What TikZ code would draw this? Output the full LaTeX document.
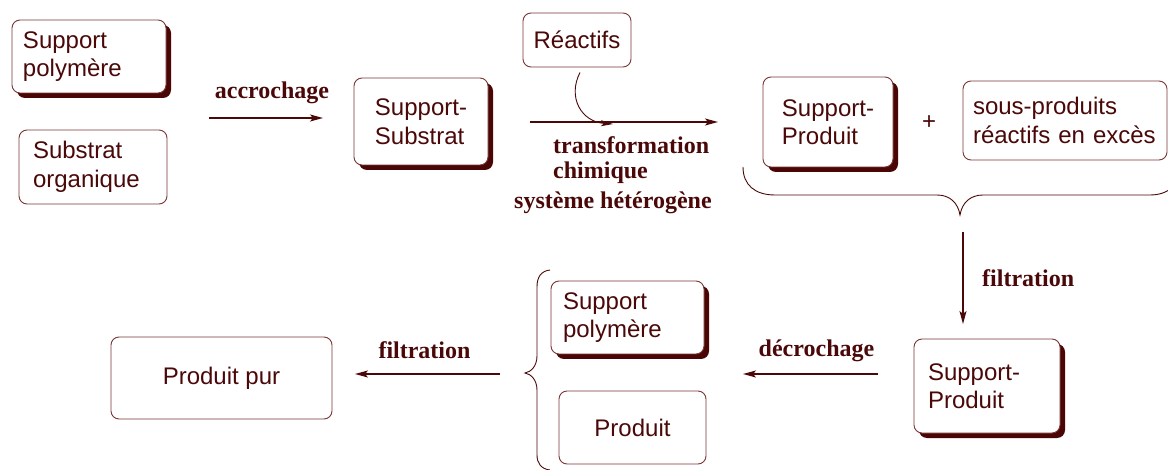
\documentclass[tikz,border=0pt]{standalone}
\usepackage{fontspec}
\setmainfont{Liberation Sans}
\newfontfamily\serifb{Liberation Serif}
\usetikzlibrary{shadows,arrows.meta,calc}
\definecolor{ink}{HTML}{4A0808}
\definecolor{boxc}{HTML}{7A3535}
\definecolor{shc}{HTML}{4A0505}
\begin{document}
\begin{tikzpicture}[x=1pt,y=-1pt,
  every node/.style={font=\fontsize{24}{28.5}\selectfont, text=ink},
  box/.style={draw=boxc, line width=0.9pt, rounded corners=8pt, fill=white, inner ysep=0pt},
  shbox/.style={box, drop shadow={shadow xshift=5pt,shadow yshift=-5pt,fill=shc,opacity=1}},
  lbl/.style={font=\serifb\bfseries\fontsize{24}{28}\selectfont, inner sep=0pt},
  arr/.style={draw=ink, line width=1.4pt, -{Stealth[length=13pt,width=7pt,inset=3pt]}},
  carr/.style={draw=ink, line width=0.9pt, -{Stealth[length=12pt,width=6pt,inset=3pt]}},
  brace/.style={draw=ink, line width=0.9pt},
]
\useasboundingbox (0,0) rectangle (1168,470);
\clip (0,0) rectangle (1168,470);

% boxes
\node[shbox, minimum width=154pt, minimum height=73pt, inner xsep=11pt, text width=132pt, align=left] (A) at (89,56.5) {Support\\polymère};
\node[box, minimum width=148pt, minimum height=74pt, inner xsep=14pt, text width=120pt, align=left] (B) at (93,167) {Substrat\\organique};
\node[shbox, minimum width=134pt, minimum height=87pt, align=left] (C) at (421,121.5) {Support-\\Substrat};
\node[box, minimum width=108pt, minimum height=54pt, align=center] (R) at (577,40) {Réactifs};
\node[shbox, minimum width=130pt, minimum height=90pt, align=left] (D) at (828,122) {Support-\\Produit};
\node (plus) at (929,123) {+};
\node[box, minimum width=204pt, minimum height=79pt, inner xsep=10pt, text width=184pt, align=left] (E) at (1065,120.5) {sous-produits\\réactifs en excès};
\node[shbox, minimum width=146pt, minimum height=94pt, inner xsep=14pt, text width=118pt, align=left] (F) at (987,386) {Support-\\Produit};
\node[shbox, minimum width=153pt, minimum height=73pt, inner xsep=12pt, text width=129pt, align=left] (G) at (627.5,317.5) {Support\\polymère};
\node[box, minimum width=147pt, minimum height=73pt, align=center] (H) at (632.5,427.5) {Produit};
\node[box, minimum width=221pt, minimum height=82pt, align=center] (I) at (221.5,378) {Produit pur};

% arrow end points
\coordinate (a1s) at (209,118);
\coordinate (a1e) at (323,118);
\coordinate (a2s) at (530,122);
\coordinate (a2e) at (718,122);
\coordinate (cve) at (613,124);
\coordinate (btip) at (960,215);
\coordinate (a3s) at (963,232);
\coordinate (a3e) at (963,324);
\coordinate (a4s) at (878,374);
\coordinate (a4e) at (743,374);
\coordinate (a5s) at (500,374);
\coordinate (a5e) at (355,374);

% arrows
\draw[arr] (a1s) -- (a1e);
\draw[arr] (a2s) -- (a2e);
\draw[carr] ($(R.south)+(3,5)$) .. controls (567,98) and (582,122) .. (cve);
\draw[arr] (a3s) -- (a3e);
\draw[arr] (a4s) -- (a4e);
\draw[arr] (a5s) -- (a5e);

% braces
\draw[brace] (743,167) .. controls (743,185) and (755,195) .. (775,195) -- (937,195)
  .. controls (950,195) and (958,203) .. (btip)
  .. controls (962,203) and (970,195) .. (983,195) -- (1150,195)
  .. controls (1168,195) and (1180,185) .. (1180,167);
\draw[brace] (550,270) .. controls (541,271) and (537,277) .. (537,287) -- (537,356)
  .. controls (537,366) and (531,372) .. (525,373)
  .. controls (531,374) and (537,380) .. (537,390) -- (537,455)
  .. controls (537,463) and (541,469) .. (550,470);

% labels
\node[lbl] (l1) at (272,93) {accrochage};
\node[lbl, anchor=west] (l2) at (553,145) {transformation};
\node[lbl, anchor=west] (l3) at (553,173) {chimique};
\node[lbl, anchor=west] (l4) at (514,203) {système hétérogène};
\node[lbl, anchor=west] (l5) at (982,278) {filtration};
\node[lbl] (l6) at (816.5,351) {décrochage};
\node[lbl] (l7) at (424.5,350) {filtration};
\end{tikzpicture}
\end{document}
